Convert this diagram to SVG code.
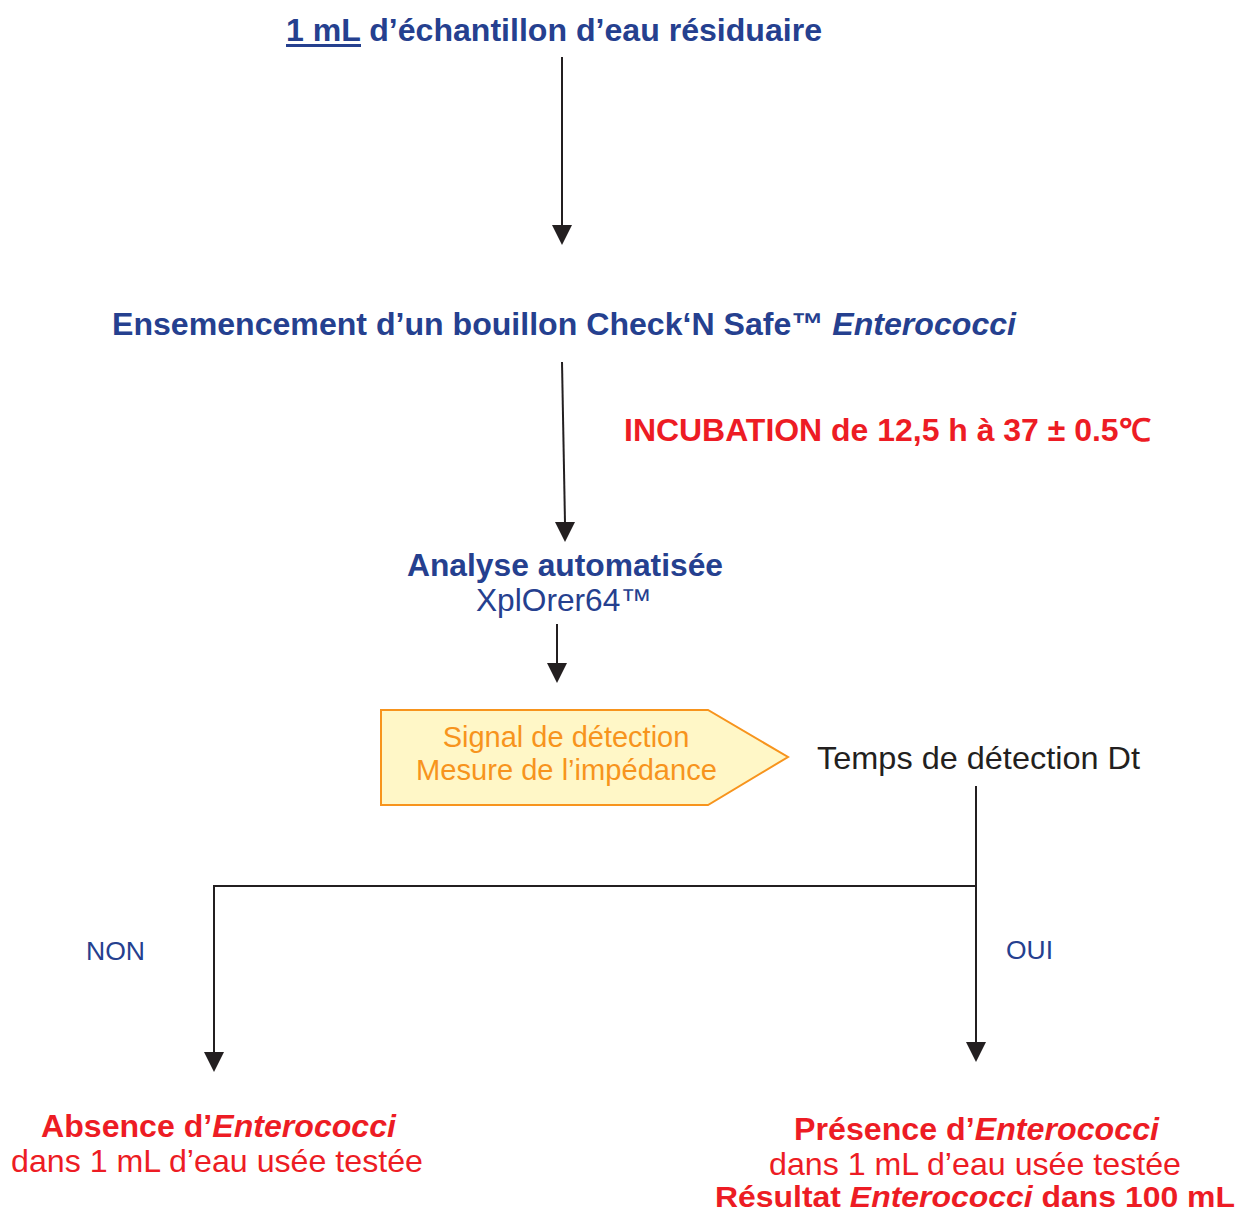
<svg xmlns="http://www.w3.org/2000/svg" width="1240" height="1214" viewBox="0 0 1240 1214">
<style>
text{font-family:"Liberation Sans",Arial,sans-serif}
.b{fill:#25408f}
.r{fill:#ed1c24}
.o{fill:#f7941d}
.k{fill:#231f20}
.bold{font-weight:bold}
.it{font-style:italic}
.ln{stroke:#231f20;stroke-width:2;fill:none}
.ah{fill:#231f20}
</style>
<rect width="1240" height="1214" fill="#ffffff"/>
<g id="connectors">
<line class="ln" x1="562" y1="57" x2="562" y2="226"/>
<polygon class="ah" points="552,225 572,225 562,245"/>
<line class="ln" x1="562" y1="362" x2="565" y2="523"/>
<polygon class="ah" points="555,522 575,522 565,542"/>
<line class="ln" x1="557" y1="624" x2="557" y2="664"/>
<polygon class="ah" points="547,663 567,663 557,683"/>
<polyline class="ln" points="976,786 976,886 214,886 214,1053"/>
<line class="ln" x1="976" y1="886" x2="976" y2="1043"/>
<polygon class="ah" points="966,1042 986,1042 976,1062"/>
<polygon class="ah" points="204,1052 224,1052 214,1072"/>
</g>
<g id="n-echantillon">
<text class="b bold" x="286" y="41" font-size="31.5" textLength="536" lengthAdjust="spacingAndGlyphs">1 mL d’échantillon d’eau résiduaire</text>
<rect class="b" x="286" y="44" width="75" height="3"/>
</g>
<g id="n-ensemencement">
<text class="b bold" x="112" y="335" font-size="31.5" textLength="904" lengthAdjust="spacingAndGlyphs">Ensemencement d’un bouillon Check‘N Safe™ <tspan class="it">Enterococci</tspan></text>
</g>
<g id="n-incubation">
<text class="r bold" x="624" y="441" font-size="31.5" textLength="526" lengthAdjust="spacingAndGlyphs">INCUBATION de 12,5 h à 37 ± 0.5℃</text>
</g>
<g id="n-analyse">
<text class="b bold" x="407" y="576" font-size="31.5" textLength="316" lengthAdjust="spacingAndGlyphs">Analyse automatisée</text>
<text class="b" x="476" y="611" font-size="31.5" textLength="176" lengthAdjust="spacingAndGlyphs">XplOrer64™</text>
</g>
<g id="n-signal">
<polygon points="381,710 708,710 788,757 708,805 381,805" fill="#fff7c7" stroke="#f7941d" stroke-width="2"/>
<text class="o" x="566" y="747" font-size="29" text-anchor="middle">Signal de détection</text>
<text class="o" x="416" y="780" font-size="29" textLength="301" lengthAdjust="spacingAndGlyphs">Mesure de l’impédance</text>
</g>
<g id="n-temps">
<text class="k" x="817" y="769" font-size="31.5" textLength="323" lengthAdjust="spacingAndGlyphs">Temps de détection Dt</text>
</g>
<g id="n-non">
<text class="b" x="86" y="960" font-size="26" textLength="59" lengthAdjust="spacingAndGlyphs">NON</text>
</g>
<g id="n-oui">
<text class="b" x="1006" y="959" font-size="26" textLength="47" lengthAdjust="spacingAndGlyphs">OUI</text>
</g>
<g id="n-absence">
<text class="r bold" x="41" y="1137" font-size="31.5" textLength="355" lengthAdjust="spacingAndGlyphs">Absence d’<tspan class="it">Enterococci</tspan></text>
<text class="r" x="11" y="1172" font-size="31.5" textLength="412" lengthAdjust="spacingAndGlyphs">dans 1 mL d’eau usée testée</text>
</g>
<g id="n-presence">
<text class="r bold" x="794" y="1140" font-size="31.5" textLength="365" lengthAdjust="spacingAndGlyphs">Présence d’<tspan class="it">Enterococci</tspan></text>
<text class="r" x="769" y="1175" font-size="31.5" textLength="412" lengthAdjust="spacingAndGlyphs">dans 1 mL d’eau usée testée</text>
<text class="r bold" x="715" y="1207" font-size="30" textLength="520" lengthAdjust="spacingAndGlyphs">Résultat <tspan class="it">Enterococci</tspan> dans 100 mL</text>
</g>
</svg>
